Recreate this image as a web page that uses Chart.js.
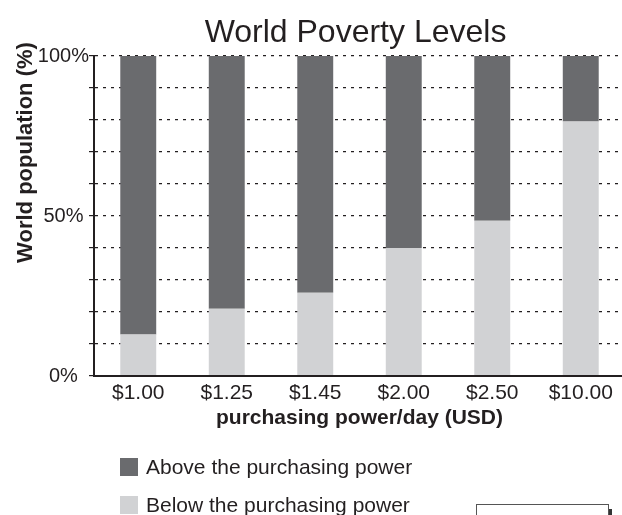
<!DOCTYPE html>
<html><head><meta charset="utf-8">
<script src="https://cdn.jsdelivr.net/npm/chart.js@4.4.0/dist/chart.umd.min.js"></script>
<style>
html,body{margin:0;padding:0;background:#fff;overflow:hidden;width:622px;height:515px;}
#wrap{position:relative;width:630px;height:515px;}
canvas{display:block;}
#box{position:absolute;left:476px;top:504px;width:131px;height:30px;border:1.5px solid #555;box-shadow:3px 5px 0 #333;background:#fff;}
</style></head><body>
<div id="wrap"><canvas id="c" width="630" height="515"></canvas><div id="box"></div></div>
<script>
const categories = ['$1.00', '$1.25', '$1.45', '$2.00', '$2.50', '$10.00'];
const belowValues = [13, 21, 26, 40, 48.5, 79.5];
const aboveValues = [87, 79, 74, 60, 51.5, 20.5];
const yTickLabels = {0: '0%  ', 50: '50% ', 100: '100%'};
const seriesNames = ['Below the purchasing power', 'Above the purchasing power'];
const chartTitle = 'World Poverty Levels';
const xTitle = 'purchasing power/day (USD)';
const yTitle = 'World population (%)';

const FONT = '"Liberation Sans", Arial, Helvetica, sans-serif';
const INK = '#231f20';

const decor = {
  id: 'decor',
  afterDraw(chart) {
    const {ctx, chartArea: a} = chart;
    ctx.save();
    ctx.fillStyle = INK;
    ctx.textBaseline = 'alphabetic';
    ctx.textAlign = 'center';
    ctx.font = '32px ' + FONT;
    ctx.fillText(chartTitle, (a.left + a.right) / 2 - 4, 42);
    ctx.save();
    ctx.translate(32, 152.5);
    ctx.rotate(-Math.PI / 2);
    ctx.font = 'bold 22px ' + FONT;
    ctx.fillText(yTitle, 0, 0);
    ctx.restore();
    const items = chart.data.datasets.slice().reverse();
    ctx.textAlign = 'left';
    ctx.font = '21px ' + FONT;
    items.forEach((ds, i) => {
      const top = 458 + i * 38;
      ctx.fillStyle = ds.backgroundColor;
      ctx.fillRect(120, top, 18, 18);
      ctx.fillStyle = INK;
      ctx.fillText(ds.label, 146, top + 16);
    });
    ctx.restore();
  }
};

new Chart(document.getElementById('c'), {
  type: 'bar',
  data: {
    labels: categories,
    datasets: [
      {label: seriesNames[0], data: belowValues, backgroundColor: '#d1d2d4', categoryPercentage: 1, barPercentage: 0.406},
      {label: seriesNames[1], data: aboveValues, backgroundColor: '#6a6b6e', categoryPercentage: 1, barPercentage: 0.406}
    ]
  },
  options: {
    responsive: false,
    animation: false,
    devicePixelRatio: 1,
    layout: {padding: {top: 56, right: 5, bottom: 79, left: 0}},
    plugins: {legend: {display: false}, title: {display: false}, tooltip: {enabled: false}},
    scales: {
      x: {
        stacked: true,
        grid: {display: false, drawTicks: false},
        border: {display: true, color: INK, width: 2, z: 1},
        ticks: {color: INK, font: {family: FONT, size: 21}, padding: 5, maxRotation: 0, autoSkip: false},
        title: {display: true, text: xTitle, color: INK, font: {family: FONT, size: 21, weight: 'bold'}, padding: {top: 0, bottom: 5}},
        afterFit(s) { s.height = 60; }
      },
      y: {
        stacked: true,
        min: 0,
        max: 100,
        ticks: {stepSize: 10, padding: 0, color: INK, font: {family: FONT, size: 20},
          callback: (v) => (yTickLabels[v] !== undefined ? yTickLabels[v] : '')},
        grid: {color: INK, lineWidth: 1.2, drawTicks: true, tickLength: 5, tickColor: INK, tickWidth: 1.2, tickBorderDash: []},
        border: {display: true, color: INK, width: 2, dash: [3, 5], z: 1},
        afterFit(s) { s.width = 94; }
      }
    }
  },
  plugins: [decor]
});
</script>
</body></html>
